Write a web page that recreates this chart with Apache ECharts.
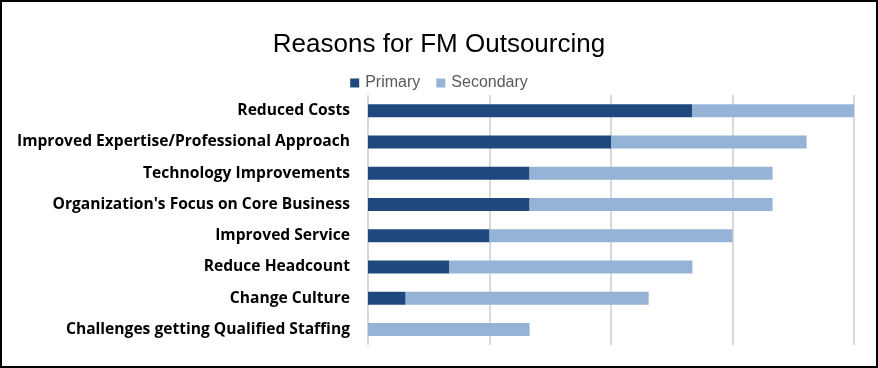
<!DOCTYPE html>
<html>
<head>
<meta charset="utf-8">
<script src="https://cdn.jsdelivr.net/npm/echarts@6/dist/echarts.min.js"></script>
<style>
html,body{margin:0;padding:0;background:#fff;}
#chart{width:878px;height:368px;}
</style>
</head>
<body>
<div id="chart"></div>
<script>
var categories = [
  "Reduced Costs",
  "Improved Expertise/Professional Approach",
  "Technology Improvements",
  "Organization's Focus on Core Business",
  "Improved Service",
  "Reduce Headcount",
  "Change Culture",
  "Challenges getting Qualified Staffing"
];
var primary = [26.7, 20, 13.3, 13.3, 10, 6.7, 3.1, 0];
var secondary = [13.3, 16.1, 20, 20, 20, 20, 20, 13.3];
var seriesNames = ["Primary", "Secondary"];
var titleText = "Reasons for FM Outsourcing";

var chart = echarts.init(document.getElementById('chart'), null, {renderer: 'canvas'});
var fontFam = "'Liberation Sans', Arial, sans-serif";
var labelFam = "'Open Sans', 'Liberation Sans', sans-serif";
chart.setOption({
  animation: false,
  backgroundColor: '#ffffff',
  title: {
    text: titleText,
    left: 'center',
    top: 27,
    textStyle: {fontFamily: fontFam, fontSize: 26, fontWeight: 'normal', color: '#000000'}
  },
  legend: {
    data: seriesNames,
    top: 70,
    left: 'center',
    itemWidth: 9,
    itemHeight: 9,
    itemGap: 16,
    icon: 'rect',
    textStyle: {fontFamily: fontFam, fontSize: 16, color: '#595959', padding: [0,0,0,1]}
  },
  grid: {left: 368, right: 24, top: 95, bottom: 23, containLabel: false},
  xAxis: {
    type: 'value', min: 0, max: 40, interval: 10,
    axisLabel: {show: false}, axisLine: {show: false}, axisTick: {show: false},
    splitLine: {show: true, lineStyle: {color: '#d9d9d9', width: 2}}
  },
  yAxis: {
    type: 'category', data: categories, inverse: true,
    axisLine: {show: false}, axisTick: {show: false},
    axisLabel: {fontFamily: labelFam, fontSize: 15.6, fontWeight: 'bold', color: '#000000', margin: 18}
  },
  graphic: [{
    type: 'rect', shape: {x: 1, y: 1, width: 876, height: 366},
    style: {fill: 'none', stroke: '#000000', lineWidth: 2}, silent: true
  }],
  series: [
    {name: seriesNames[0], type: 'bar', stack: 'a', data: primary, barWidth: 13,
     itemStyle: {color: '#1F497D'}},
    {name: seriesNames[1], type: 'bar', stack: 'a', data: secondary, barWidth: 13,
     itemStyle: {color: '#95B3D7'}}
  ]
});
</script>
</body>
</html>
